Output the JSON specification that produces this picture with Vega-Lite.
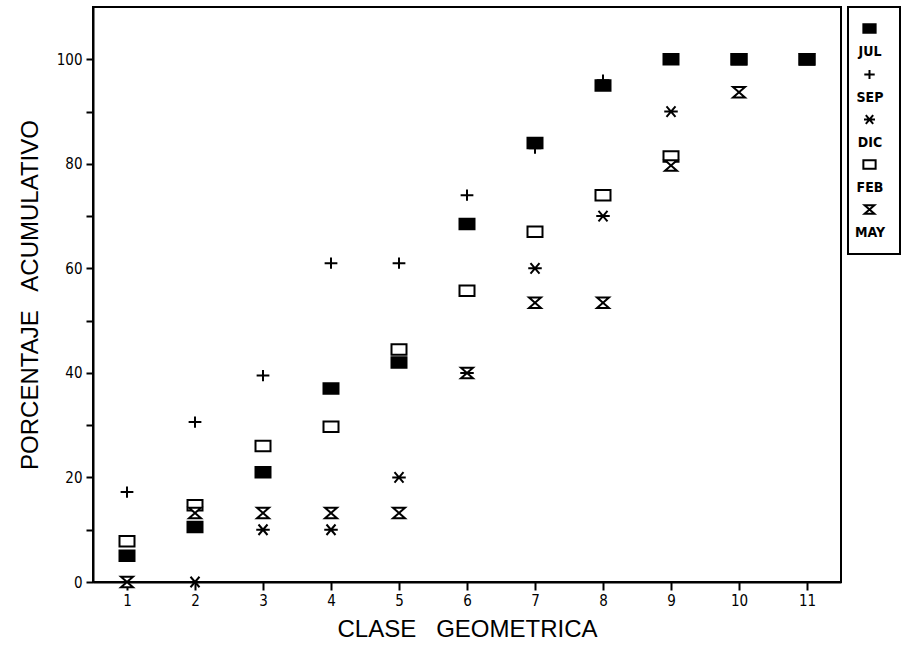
{
  "$schema": "https://vega.github.io/schema/vega-lite/v6.json",
  "width": 748,
  "height": 575,
  "autosize": "none",
  "padding": {"left": 93, "top": 7, "right": 64, "bottom": 63},
  "background": "white",
  "config": {
    "view": {"stroke": "black", "strokeWidth": 2},
    "axis": {
      "domainColor": "black", "domainWidth": 2, "tickColor": "black", "tickWidth": 2, "tickSize": 7,
      "labelColor": "black", "labelFont": "DejaVu Sans Condensed", "labelFontSize": 15,
      "titleColor": "black", "titleFont": "Liberation Sans", "titleFontSize": 24, "titleFontWeight": "normal",
      "grid": false
    },
    "legend": {"strokeWidth": 2}
  },
  "data": {"values": [
    {"mes": "SEP", "clase": 1, "pct": 17.2},
    {"mes": "SEP", "clase": 2, "pct": 30.6},
    {"mes": "SEP", "clase": 3, "pct": 39.5},
    {"mes": "SEP", "clase": 4, "pct": 61},
    {"mes": "SEP", "clase": 5, "pct": 61},
    {"mes": "SEP", "clase": 6, "pct": 74},
    {"mes": "SEP", "clase": 7, "pct": 83},
    {"mes": "SEP", "clase": 8, "pct": 96},
    {"mes": "SEP", "clase": 9, "pct": 100},
    {"mes": "SEP", "clase": 10, "pct": 100},
    {"mes": "SEP", "clase": 11, "pct": 100},
    {"mes": "DIC", "clase": 1, "pct": 0},
    {"mes": "DIC", "clase": 2, "pct": 0},
    {"mes": "DIC", "clase": 3, "pct": 10},
    {"mes": "DIC", "clase": 4, "pct": 10},
    {"mes": "DIC", "clase": 5, "pct": 20},
    {"mes": "DIC", "clase": 6, "pct": 40},
    {"mes": "DIC", "clase": 7, "pct": 60},
    {"mes": "DIC", "clase": 8, "pct": 70},
    {"mes": "DIC", "clase": 9, "pct": 90},
    {"mes": "DIC", "clase": 10, "pct": 100},
    {"mes": "DIC", "clase": 11, "pct": 100},
    {"mes": "FEB", "clase": 1, "pct": 7.8},
    {"mes": "FEB", "clase": 2, "pct": 14.7},
    {"mes": "FEB", "clase": 3, "pct": 26},
    {"mes": "FEB", "clase": 4, "pct": 29.7},
    {"mes": "FEB", "clase": 5, "pct": 44.5},
    {"mes": "FEB", "clase": 6, "pct": 55.7},
    {"mes": "FEB", "clase": 7, "pct": 67},
    {"mes": "FEB", "clase": 8, "pct": 74},
    {"mes": "FEB", "clase": 9, "pct": 81.4},
    {"mes": "FEB", "clase": 10, "pct": 100},
    {"mes": "FEB", "clase": 11, "pct": 100},
    {"mes": "MAY", "clase": 1, "pct": 0},
    {"mes": "MAY", "clase": 2, "pct": 13.2},
    {"mes": "MAY", "clase": 3, "pct": 13.2},
    {"mes": "MAY", "clase": 4, "pct": 13.2},
    {"mes": "MAY", "clase": 5, "pct": 13.2},
    {"mes": "MAY", "clase": 6, "pct": 40},
    {"mes": "MAY", "clase": 7, "pct": 53.4},
    {"mes": "MAY", "clase": 8, "pct": 53.4},
    {"mes": "MAY", "clase": 9, "pct": 79.7},
    {"mes": "MAY", "clase": 10, "pct": 93.7},
    {"mes": "MAY", "clase": 11, "pct": 100},
    {"mes": "JUL", "clase": 1, "pct": 5},
    {"mes": "JUL", "clase": 2, "pct": 10.5},
    {"mes": "JUL", "clase": 3, "pct": 21},
    {"mes": "JUL", "clase": 4, "pct": 37},
    {"mes": "JUL", "clase": 5, "pct": 42},
    {"mes": "JUL", "clase": 6, "pct": 68.5},
    {"mes": "JUL", "clase": 7, "pct": 84},
    {"mes": "JUL", "clase": 8, "pct": 95},
    {"mes": "JUL", "clase": 9, "pct": 100},
    {"mes": "JUL", "clase": 10, "pct": 100},
    {"mes": "JUL", "clase": 11, "pct": 100}
  ]},
  "mark": {"type": "point", "strokeWidth": 2, "opacity": 1, "size": 225, "clip": false},
  "encoding": {
    "x": {
      "field": "clase", "type": "quantitative",
      "scale": {"domain": [0.5, 11.5], "nice": false, "zero": false},
      "axis": {"values": [1, 2, 3, 4, 5, 6, 7, 8, 9, 10, 11], "title": "CLASE\u00a0\u00a0 GEOMETRICA", "tickSize": 8, "labelPadding": 3, "titlePadding": 9}
    },
    "y": {
      "field": "pct", "type": "quantitative",
      "scale": {"domain": [0, 110], "nice": false},
      "axis": {
        "values": [0, 10, 20, 30, 40, 50, 60, 70, 80, 90, 100],
        "labelExpr": "datum.value % 20 === 0 ? datum.label : ''",
        "title": "PORCENTAJE\u00a0\u00a0 ACUMULATIVO", "labelPadding": 4, "titlePadding": 14
      }
    },
    "shape": {
      "field": "mes", "type": "nominal",
      "scale": {
        "domain": ["JUL", "SEP", "DIC", "FEB", "MAY"],
        "range": [
          "M-1,-0.7H1V0.7H-1Z",
          "M-0.85,0H0.85M0,-0.75V0.75",
          "M-0.9,0H0.9M-0.6,-0.7L0.6,0.7M-0.6,0.7L0.6,-0.7",
          "M-1,-0.7H1V0.7H-1Z",
          "M-0.8,-0.7H0.8L-0.8,0.7H0.8Z"
        ]
      },
      "legend": {
        "orient": "none", "legendX": 755, "legendY": 0, "title": null,
        "strokeColor": "black", "padding": 14, "rowPadding": 6,
        "symbolSize": 150, "symbolStrokeColor": "black", "symbolStrokeWidth": 2,
        "labelFont": "DejaVu Sans Condensed", "labelFontSize": 14, "labelFontWeight": "bold", "labelColor": "black",
        "labelAlign": "center", "labelBaseline": "top", "labelOffset": -7,
        "labelExpr": "['', datum.label]"
      }
    },
    "fill": {
      "field": "mes", "type": "nominal",
      "scale": {"domain": ["JUL", "SEP", "DIC", "FEB", "MAY"], "range": ["black", "transparent", "transparent", "white", "white"]}
    },
    "stroke": {
      "field": "mes", "type": "nominal",
      "scale": {"domain": ["JUL", "SEP", "DIC", "FEB", "MAY"], "range": ["black", "black", "black", "black", "black"]}
    }
  }
}
